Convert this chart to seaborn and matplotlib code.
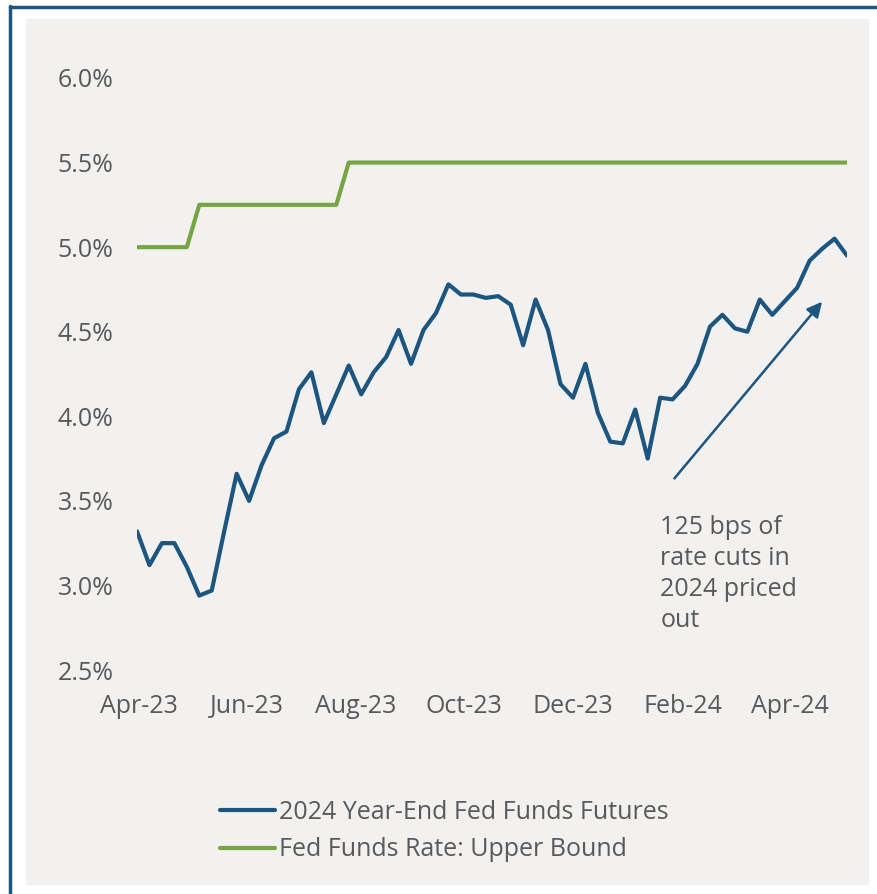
import pandas as pd
import seaborn as sns
import matplotlib.pyplot as plt
import matplotlib.dates as mdates
from matplotlib.patches import Rectangle
from matplotlib.lines import Line2D

# weekly observations (Fridays)
dates = pd.date_range("2023-03-31", periods=58, freq="7D")

futures = [3.32, 3.12, 3.25, 3.25, 3.11, 2.94, 2.97, 3.32, 3.66, 3.50,
           3.71, 3.87, 3.91, 4.16, 4.26, 3.96, 4.13, 4.30, 4.13, 4.26,
           4.35, 4.51, 4.31, 4.51, 4.61, 4.78, 4.72, 4.72, 4.70, 4.71,
           4.66, 4.42, 4.69, 4.51, 4.19, 4.11, 4.31, 4.02, 3.85, 3.84,
           4.04, 3.75, 4.11, 4.10, 4.18, 4.31, 4.53, 4.60, 4.52, 4.50,
           4.69, 4.60, 4.68, 4.76, 4.92, 4.99, 5.05, 4.95]

upper_bound = [5.00] * 5 + [5.25] * 12 + [5.50] * 41

names = ["2024 Year-End Fed Funds Futures", "Fed Funds Rate: Upper Bound"]
colors = ["#1b5580", "#77a543"]

df = pd.concat([
    pd.DataFrame({"date": dates, "rate": futures, "series": names[0]}),
    pd.DataFrame({"date": dates, "rate": upper_bound, "series": names[1]}),
])

sns.set_style("white")
plt.rcParams["font.family"] = ["Open Sans", "DejaVu Sans"]
txt = "#595959"

fig = plt.figure(figsize=(8.77, 8.94), dpi=100)
fig.patch.set_facecolor("white")
# grey panel and the frame edges
fig.patches.append(Rectangle((26 / 877, 1 - 884 / 894), 842 / 877, 865 / 894,
                             transform=fig.transFigure, color="#f2f1f0", zorder=-10))
fig.lines.append(Line2D([9.5 / 877, 9.5 / 877], [0, 1 - 6 / 894], transform=fig.transFigure,
                        color="#1b5580", lw=2.5))
fig.lines.append(Line2D([9.5 / 877, 1], [1 - 7 / 894, 1 - 7 / 894], transform=fig.transFigure,
                        color="#1b5580", lw=2.5))

ax = fig.add_axes([137 / 877, 1 - 670 / 894, 710 / 877, 592 / 894])
ax.set_zorder(5)
ax.set_facecolor("none")
sns.lineplot(data=df, x="date", y="rate", hue="series", palette=colors,
             linewidth=3, ax=ax)

ax.set_ylim(2.5, 6.0)
ax.set_yticks([2.5, 3.0, 3.5, 4.0, 4.5, 5.0, 5.5, 6.0])
ax.set_yticklabels([f"{v:.1f}%" for v in ax.get_yticks()])
ax.set_xlim(dates[0], dates[-1])
ax.xaxis.set_major_locator(mdates.MonthLocator(bymonth=[2, 4, 6, 8, 10, 12]))
ax.xaxis.set_major_formatter(mdates.DateFormatter("%b-%y"))
ax.tick_params(axis="both", length=0, labelsize=18, colors=txt)
ax.tick_params(axis="x", pad=17)
ax.tick_params(axis="y", pad=17)
ax.set_xlabel("")
ax.set_ylabel("")
sns.despine(ax=ax, left=True, bottom=True)

ax.annotate("", xy=(pd.Timestamp("2024-04-20"), 4.69),
            xytext=(pd.Timestamp("2024-01-26"), 3.62),
            arrowprops=dict(arrowstyle="-|>,head_length=0.9,head_width=0.45",
                            color="#1b5580", lw=1.8))
ax.text(pd.Timestamp("2024-01-19"), 3.415, "125 bps of\nrate cuts in\n2024 priced\nout",
        fontsize=18, color=txt, va="top", ha="left", linespacing=1.32)

leg = ax.legend(loc="upper left", bbox_to_anchor=(220 / 877, 1 - 800 / 894),
                bbox_transform=fig.transFigure, frameon=False, fontsize=18,
                handlelength=2.2, handletextpad=0.15, labelspacing=0.5,
                borderpad=0, borderaxespad=0)
for t in leg.get_texts():
    t.set_color(txt)

fig.savefig("out.png", dpi=100, facecolor="white")
